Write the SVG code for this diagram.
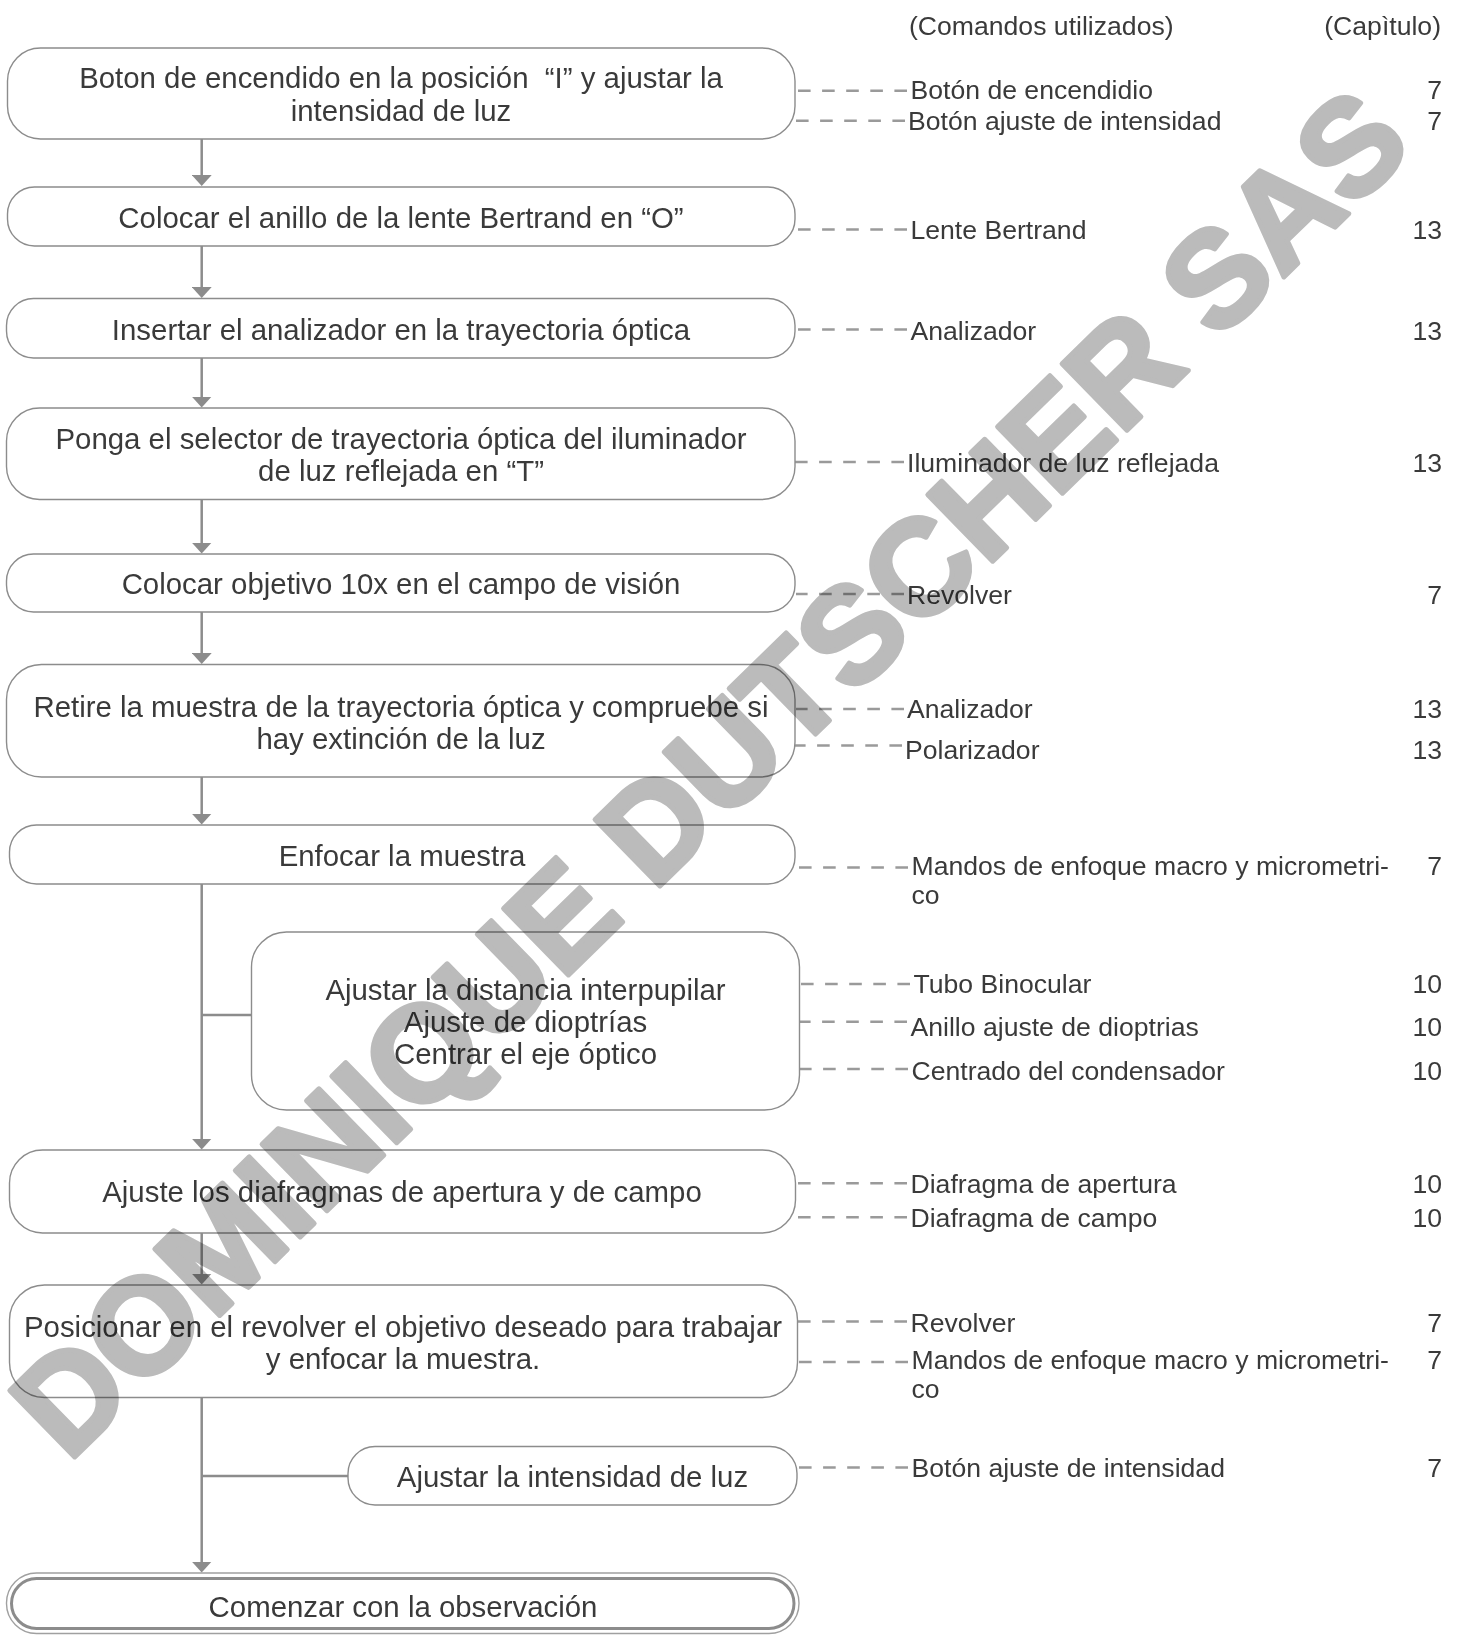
<svg xmlns="http://www.w3.org/2000/svg" width="1460" height="1635" viewBox="0 0 1460 1635">
<defs>
<style>
.box{fill:#fff;stroke:#8c8c8c;stroke-width:1.4}
.t{font-family:"Liberation Sans",Arial,sans-serif;font-size:29.4px;fill:#3a3a3a;text-anchor:middle}
.l{font-family:"Liberation Sans",Arial,sans-serif;font-size:26.6px;fill:#3a3a3a}
.n{font-family:"Liberation Sans",Arial,sans-serif;font-size:26.6px;fill:#3a3a3a;text-anchor:end}
.arr{fill:none;stroke:#8c8c8c;stroke-width:2.5}
.dash{fill:none;stroke:#9a9a9a;stroke-width:2.5;stroke-dasharray:12.6 11.5}
.wm{font-family:"Liberation Sans",Arial,sans-serif;font-weight:bold;font-size:135px;fill:#bbbbbb;stroke:#bbbbbb;stroke-width:5;stroke-linejoin:round;text-anchor:middle;mix-blend-mode:multiply}
</style>
<marker id="tri" markerUnits="userSpaceOnUse" markerWidth="11" markerHeight="20" refX="7" refY="10" orient="auto" viewBox="0 0 11 20">
<path d="M0 0 L11 10 L0 20 Z" fill="#8c8c8c"/>
</marker>
</defs>
<rect width="1460" height="1635" fill="#fff"/>

<g id="headers">
<text class="l" x="909" y="35">(Comandos utilizados)</text>
<text class="n" x="1441" y="35">(Capìtulo)</text>
</g>

<g id="connectors">
<path class="arr" d="M201.7 139 V182" marker-end="url(#tri)"/>
<path class="arr" d="M201.7 246 V294" marker-end="url(#tri)"/>
<path class="arr" d="M201.7 358 V403.5" marker-end="url(#tri)"/>
<path class="arr" d="M201.7 499.5 V549.5" marker-end="url(#tri)"/>
<path class="arr" d="M201.7 612 V660" marker-end="url(#tri)"/>
<path class="arr" d="M201.7 777 V820.5" marker-end="url(#tri)"/>
<path class="arr" d="M201.7 884 V1145.5" marker-end="url(#tri)"/>
<path class="arr" d="M201.7 1015 H251.5"/>
<path class="arr" d="M201.7 1233 V1280.5" marker-end="url(#tri)"/>
<path class="arr" d="M201.7 1397.5 V1568.5" marker-end="url(#tri)"/>
<path class="arr" d="M201.7 1476 H348"/>

<path class="dash" d="M907 90.7 H797"/>
<path class="dash" d="M905 120.7 H795"/>
<path class="dash" d="M907 229.5 H797"/>
<path class="dash" d="M907 329.5 H797"/>
<path class="dash" d="M904 462 H795"/>
<path class="dash" d="M904 594 H796"/>
<path class="dash" d="M904 709 H796"/>
<path class="dash" d="M902 745.5 H795"/>
<path class="dash" d="M908 867.5 H796"/>
<path class="dash" d="M910 984 H800"/>
<path class="dash" d="M907 1021.7 H800"/>
<path class="dash" d="M908 1069 H800"/>
<path class="dash" d="M907 1183.3 H796"/>
<path class="dash" d="M907 1217.3 H796"/>
<path class="dash" d="M907 1321.5 H797"/>
<path class="dash" d="M908 1362 H797"/>
<path class="dash" d="M908 1467.5 H797"/>
</g>

<g id="node1">
<rect class="box" x="7.5" y="48" width="787.5" height="91" rx="33"/>
<text class="t" x="401" y="88" xml:space="preserve">Boton de encendido en la posición  “I” y ajustar la</text>
<text class="t" x="401" y="120.5">intensidad de luz</text>
</g>
<g id="node2">
<rect class="box" x="7.5" y="187" width="787.5" height="59" rx="27"/>
<text class="t" x="401" y="228">Colocar el anillo de la lente Bertrand en “O”</text>
</g>
<g id="node3">
<rect class="box" x="6.5" y="298.5" width="788.5" height="59.5" rx="27"/>
<text class="t" x="401" y="340">Insertar el analizador en la trayectoria óptica</text>
</g>
<g id="node4">
<rect class="box" x="6.5" y="408" width="788.5" height="91.5" rx="33"/>
<text class="t" x="401" y="449">Ponga el selector de trayectoria óptica del iluminador</text>
<text class="t" x="401" y="481">de luz reflejada en “T”</text>
</g>
<g id="node5">
<rect class="box" x="6.5" y="554" width="788.5" height="58" rx="27"/>
<text class="t" x="401" y="594">Colocar objetivo 10x en el campo de visión</text>
</g>
<g id="node6">
<rect class="box" x="6.5" y="664.5" width="788.5" height="112.5" rx="35"/>
<text class="t" x="401" y="717">Retire la muestra de la trayectoria óptica y compruebe si</text>
<text class="t" x="401" y="748.5">hay extinción de la luz</text>
</g>
<g id="node7">
<rect class="box" x="9.5" y="825" width="785.5" height="59" rx="27"/>
<text class="t" x="402" y="866">Enfocar la muestra</text>
</g>
<g id="node8">
<rect class="box" x="251.5" y="932" width="548" height="178" rx="35"/>
<text class="t" x="525.5" y="999.5">Ajustar la distancia interpupilar</text>
<text class="t" x="525.5" y="1031.5">Ajuste de dioptrías</text>
<text class="t" x="525.5" y="1063.5">Centrar el eje óptico</text>
</g>
<g id="node9">
<rect class="box" x="9.5" y="1150" width="786" height="83" rx="33"/>
<text class="t" x="402" y="1202">Ajuste los diafragmas de apertura y de campo</text>
</g>
<g id="node10">
<rect class="box" x="9.5" y="1285" width="788" height="112.5" rx="35"/>
<text class="t" x="403" y="1336.5">Posicionar en el revolver el objetivo deseado para trabajar</text>
<text class="t" x="403" y="1369">y enfocar la muestra.</text>
</g>
<g id="node11">
<rect class="box" x="348" y="1446.5" width="449" height="58.5" rx="27"/>
<text class="t" x="572.5" y="1487">Ajustar la intensidad de luz</text>
</g>
<g id="node12">
<rect x="6.5" y="1573" width="792.5" height="60.5" rx="30" fill="#fff" stroke="#a0a0a0" stroke-width="1.4"/>
<rect x="11.5" y="1578.5" width="782.5" height="50" rx="25" fill="none" stroke="#8c8c8c" stroke-width="3"/>
<text class="t" x="403" y="1617">Comenzar con la observación</text>
</g>

<g id="labels">
<text class="l" x="910.5" y="98.5">Botón de encendidio</text>
<text class="l" x="908" y="129.5">Botón ajuste de intensidad</text>
<text class="l" x="910.5" y="239">Lente Bertrand</text>
<text class="l" x="910.5" y="339.5">Analizador</text>
<text class="l" x="907" y="471.5">Iluminador de luz reflejada</text>
<text class="l" x="907" y="603.5">Revolver</text>
<text class="l" x="907" y="718">Analizador</text>
<text class="l" x="905" y="759">Polarizador</text>
<text class="l" x="911.5" y="875">Mandos de enfoque macro y micrometri-</text>
<text class="l" x="911.5" y="903.5">co</text>
<text class="l" x="913.5" y="993">Tubo Binocular</text>
<text class="l" x="910.5" y="1036">Anillo ajuste de dioptrias</text>
<text class="l" x="911.5" y="1080">Centrado del condensador</text>
<text class="l" x="910.5" y="1193">Diafragma de apertura</text>
<text class="l" x="910.5" y="1227">Diafragma de campo</text>
<text class="l" x="910.5" y="1331.5">Revolver</text>
<text class="l" x="911.5" y="1369">Mandos de enfoque macro y micrometri-</text>
<text class="l" x="911.5" y="1397.5">co</text>
<text class="l" x="911.5" y="1476.5">Botón ajuste de intensidad</text>
</g>

<g id="chapters">
<text class="n" x="1442" y="98.5">7</text>
<text class="n" x="1442" y="129.5">7</text>
<text class="n" x="1442" y="239">13</text>
<text class="n" x="1442" y="339.5">13</text>
<text class="n" x="1442" y="471.5">13</text>
<text class="n" x="1442" y="603.5">7</text>
<text class="n" x="1442" y="718">13</text>
<text class="n" x="1442" y="759">13</text>
<text class="n" x="1442" y="875">7</text>
<text class="n" x="1442" y="993">10</text>
<text class="n" x="1442" y="1036">10</text>
<text class="n" x="1442" y="1080">10</text>
<text class="n" x="1442" y="1193">10</text>
<text class="n" x="1442" y="1227">10</text>
<text class="n" x="1442" y="1331.5">7</text>
<text class="n" x="1442" y="1369">7</text>
<text class="n" x="1442" y="1476.5">7</text>
</g>

<text class="wm" x="709" y="772" dy="0.35em" transform="rotate(-44.3 709 772)">DOMINIQUE DUTSCHER SAS</text>
</svg>
